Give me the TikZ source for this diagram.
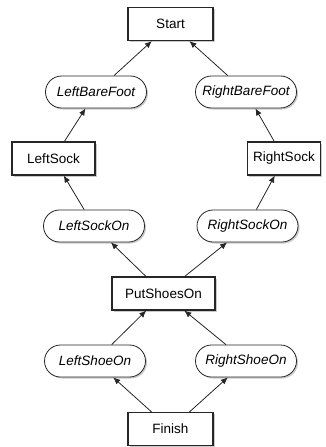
\documentclass[tikz,border=0pt]{standalone}
\usepackage{fontspec}
\setmainfont{Liberation Sans}
\usetikzlibrary{shapes.misc,shadows,arrows.meta}
\begin{document}
\begin{tikzpicture}[x=1pt,y=-1pt,
  base/.style={draw=black!85,line width=1.1pt,fill=white,inner sep=0pt,font=\fontsize{13.5}{16}\selectfont,
    drop shadow={shadow xshift=1.5pt,shadow yshift=-1.5pt,fill=black!35,opacity=0.6}},
  statebox/.style={base,rectangle,minimum height=33pt},
  actpill/.style={base,rounded rectangle,minimum width=101pt,minimum height=32pt,font=\fontsize{13.5}{16}\selectfont\itshape,line width=0.8pt},
  conn/.style={-{Latex[length=7pt,width=6pt]},line width=0.8pt,black!85}
]
\useasboundingbox (0,0) rectangle (325,447);
\node[statebox,minimum width=85pt] (start) at (170.5,24) {Start};
\node[actpill] (lbf) at (96,92) {LeftBareFoot};
\node[actpill] (rbf) at (246,92) {RightBareFoot};
\node[statebox,minimum width=83pt] (ls) at (53.5,158.5) {LeftSock};
\node[statebox,minimum width=73pt] (rs) at (284,158.5) {RightSock};
\node[actpill] (lso) at (94,226) {LeftSockOn};
\node[actpill] (rso) at (247.5,226) {RightSockOn};
\node[statebox,minimum width=103pt] (pso) at (163.5,293.5) {PutShoesOn};
\node[actpill] (lsh) at (95,361) {LeftShoeOn};
\node[actpill] (rsh) at (246,361) {RightShoeOn};
\node[statebox,minimum width=85pt,minimum height=33pt] (fin) at (170.5,429) {Finish};
\draw[conn] (lbf) -- (start);
\draw[conn] (rbf) -- (start);
\draw[conn] (ls) -- (lbf);
\draw[conn] (rs) -- (rbf);
\draw[conn] (lso) -- (ls);
\draw[conn] (rso) -- (rs);
\draw[conn] (pso) -- (lso);
\draw[conn] (pso) -- (rso);
\draw[conn] (lsh) -- (pso);
\draw[conn] (rsh) -- (pso);
\draw[conn] (fin) -- (lsh);
\draw[conn] (fin) -- (rsh);
\end{tikzpicture}
\end{document}
